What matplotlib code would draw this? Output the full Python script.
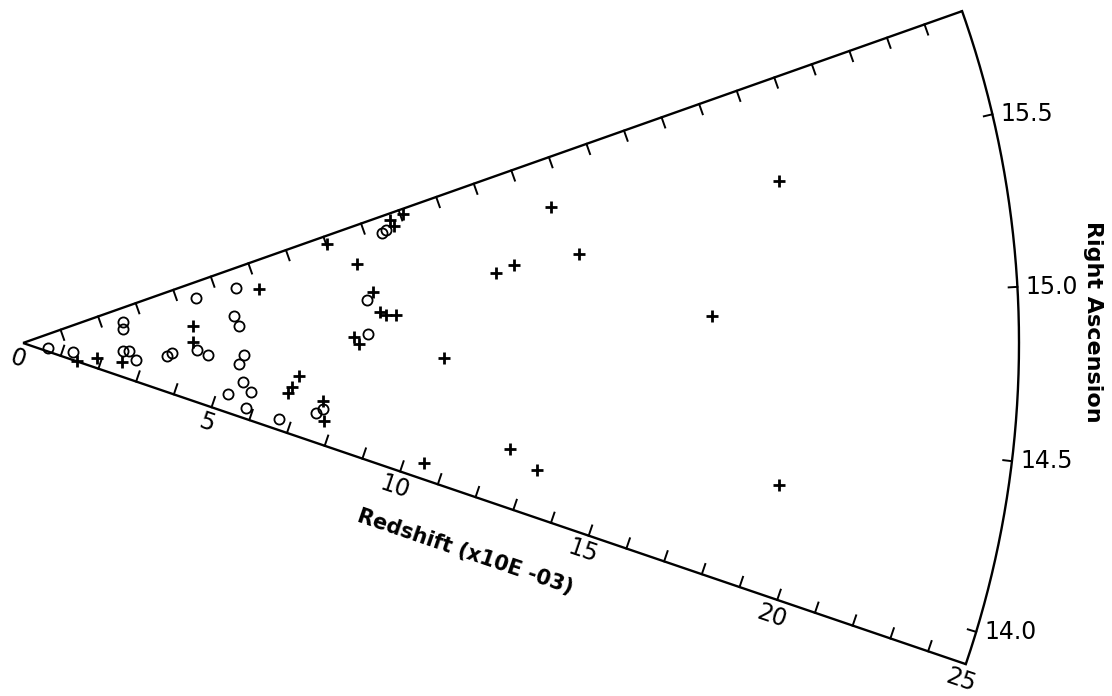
import numpy as np
import matplotlib.pyplot as plt


# redshift (x10E-03) and right ascension (hours) of each galaxy
circle_z = [0.64, 1.28, 2.56, 2.53, 2.52, 2.67, 2.87, 3.63, 3.75, 4.49,
            4.37, 4.65, 5.52, 5.34, 5.44, 5.56, 5.45, 5.61, 5.85, 5.30,
            5.83, 6.70, 7.56, 7.71, 8.70, 8.66, 9.43, 9.54]
circle_ra = [14.28, 14.33, 15.43, 15.24, 14.61, 14.62, 14.41, 14.58, 14.65, 15.56,
             14.72, 14.65, 15.56, 15.20, 15.06, 14.68, 14.56, 14.34, 14.24, 14.14,
             14.03, 14.02, 14.17, 14.22, 15.19, 14.91, 15.69, 15.70]

cross_z = [1.43, 1.90, 2.53, 4.29, 4.27, 6.08, 6.77, 6.84, 6.98, 7.67,
           7.80, 8.03, 8.61, 8.88, 8.99, 9.14, 9.39, 8.31, 8.43, 9.72,
           9.76, 10.07, 10.57, 10.51, 12.00, 12.48, 12.51, 13.28, 13.69, 14.13,
           17.31, 19.40, 19.31]
cross_ra = [13.92, 14.27, 14.30, 15.12, 14.86, 15.48, 14.31, 14.38, 14.50, 14.29,
            14.12, 15.74, 15.50, 15.25, 15.09, 15.06, 15.05, 14.89, 14.83, 15.76,
            15.71, 15.77, 14.74, 14.01, 15.26, 15.29, 14.23, 14.15, 15.56, 15.29,
            14.95, 15.44, 14.31]

z_max = 25
ra_min, ra_max = 13.903, 15.808
z_labels = [0, 5, 10, 15, 20, 25]
ra_ticks = [14.0, 14.5, 15.0, 15.5]
ra_labels = ["14.0", "14.5", "15.0", "15.5"]


def ra_angle(ra):
    # the original plot stretches the RA direction
    return np.radians(3.23 + (np.asarray(ra, dtype=float) - 15.0) * 20.09)


def to_xy(z, ra):
    a = ra_angle(ra)
    z = np.asarray(z, dtype=float)
    return z * np.cos(a), z * np.sin(a)


fig = plt.figure(figsize=(11.12, 6.96), dpi=100)
ax = fig.add_axes([0, 0, 1, 1])

scale = 996 / z_max  # pixels per redshift unit
ax.set_xlim(-23 / scale, (1112 - 23) / scale)
ax.set_ylim(-(696 - 343) / scale, 343 / scale)
ax.axis("off")

lw = 1.7

# wedge frame
for ra_edge in (ra_min, ra_max):
    x, y = to_xy([0, z_max], [ra_edge, ra_edge])
    ax.plot(x, y, color="black", lw=lw, solid_capstyle="butt")

arc_ra = np.linspace(ra_min, ra_max, 300)
x, y = to_xy(np.full_like(arc_ra, z_max), arc_ra)
ax.plot(x, y, color="black", lw=lw)

# redshift ticks on both straight edges, pointing inward
tick_len = 0.27
for ra_edge, side in ((ra_min, 1), (ra_max, -1)):
    a = ra_angle(ra_edge)
    nx, ny = -np.sin(a) * side, np.cos(a) * side
    for k in range(1, z_max):
        px, py = to_xy(k, ra_edge)
        ax.plot([px, px + nx * tick_len], [py, py + ny * tick_len],
                color="black", lw=1.4)

# redshift labels under the lower edge
a_low = ra_angle(ra_min)
ox, oy = np.sin(a_low), -np.cos(a_low)
for k in z_labels:
    px, py = to_xy(k, ra_min)
    ax.text(px + ox * 0.42, py + oy * 0.42, str(k), fontsize=17,
            rotation=np.degrees(a_low), rotation_mode="anchor",
            ha="center", va="center")

px, py = to_xy(12.2, ra_min)
ax.text(px + ox * 1.38, py + oy * 1.38, "Redshift (x10E -03)", fontsize=15,
        fontweight="bold", rotation=np.degrees(a_low), rotation_mode="anchor",
        ha="center", va="center")

# right ascension ticks on the arc
for ra, lab in zip(ra_ticks, ra_labels):
    x0, y0 = to_xy(z_max, ra)
    x1, y1 = to_xy(z_max - 0.22, ra)
    ax.plot([x0, x1], [y0, y1], color="black", lw=1.4)
    ax.annotate(lab, (x0, y0), xytext=(6, 0), textcoords="offset points",
                fontsize=17, ha="left", va="center")

fig.text(0.983, 0.537, "Right Ascension", fontsize=16, fontweight="bold",
         rotation=-90, ha="center", va="center")

# galaxies
cx, cy = to_xy(circle_z, circle_ra)
ax.plot(cx, cy, "o", ms=7.3, mfc="none", mec="black", mew=1.3)
sx, sy = to_xy(cross_z, cross_ra)
ax.plot(sx, sy, "+", ms=8, mec="black", mew=2.0)

fig.savefig("out.png", dpi=100, facecolor="white")
plt.close(fig)
